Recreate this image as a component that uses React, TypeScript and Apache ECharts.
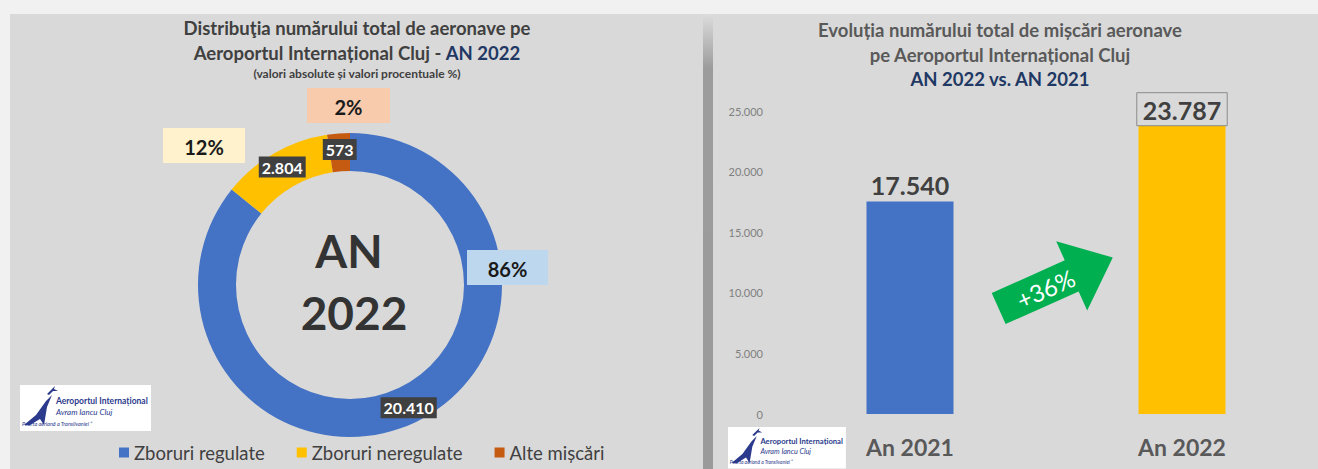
import React, { useEffect, useRef } from "react";
import * as echarts from "echarts";

// ---- Data ----
const donutNames = ["Zboruri regulate", "Zboruri neregulate", "Alte mișcări"];
const donutValues = [20410, 2804, 573];
const donutColors = ["#4472c4", "#ffc000", "#c55a11"];

const barCategories = ["An 2021", "An 2022"];
const barValues = [17540, 23787];
const barColors = ["#4472c4", "#ffc000"];

const yMin = 0;
const yMax = 25000;
const yInterval = 5000;

const FONT = "Lato, 'Noto Sans', 'Open Sans', sans-serif";

const fmt = (v: number) =>
  String(Math.round(v)).replace(/\B(?=(\d{3})+(?!\d))/g, ".");

// percentage boxes layout (position / style only)
const pctBoxes = [
  { x: 467, y: 250, w: 81, h: 35, fill: "#bdd7ee" },
  { x: 163, y: 128, w: 82, h: 35, fill: "#fff2cc" },
  { x: 307, y: 88, w: 83, h: 35, fill: "#f8cbad" },
];

const centered = { textAlign: "center", align: "center", textVerticalAlign: "middle", verticalAlign: "middle" };

function logo(x: number, y: number, s: number): any {
  const vm = { textVerticalAlign: "middle", verticalAlign: "middle" };
  return {
    type: "group",
    x,
    y,
    scaleX: s,
    scaleY: s,
    children: [
      { type: "rect", z: 50, shape: { x: 0, y: 0, width: 131, height: 46 }, style: { fill: "#ffffff" } },
      {
        type: "polygon",
        z: 51,
        shape: { points: [[4, 40], [16, 30], [26, 16], [32, 10], [27, 22], [24, 40], [20, 34], [10, 40]] },
        style: { fill: "#2b3a8c" },
      },
      {
        type: "polygon",
        z: 51,
        shape: { points: [[27, 9], [33, 3], [35, 1], [34, 4], [38, 6], [33, 6], [29, 10]] },
        style: { fill: "#2b3a8c" },
      },
      { type: "text", z: 51, x: 36, y: 16, style: { text: "Aeroportul Internațional", font: `bold 8.5px ${FONT}`, fill: "#2b3a8c", ...vm } },
      { type: "text", z: 51, x: 36, y: 27, style: { text: "Avram Iancu Cluj", font: `italic 8px ${FONT}`, fill: "#2b3a8c", ...vm } },
      { type: "text", z: 51, x: 2, y: 39, style: { text: "Poarta aeriană a Transilvaniei ”", font: `italic 5.5px ${FONT}`, fill: "#2b3a8c", ...vm } },
    ],
  };
}

export default function App() {
  const ref = useRef<HTMLDivElement>(null);

  useEffect(() => {
    if (!ref.current) return;
    const chart = echarts.init(ref.current, null, { renderer: "svg" });
    const total = donutValues.reduce((a, b) => a + b, 0);
    const pcts = donutValues.map((v) => Math.round((v / total) * 100) + "%");
    const growth = Math.round(((barValues[1] - barValues[0]) / barValues[0]) * 100);

    const graphics: any[] = [
      // backgrounds
      { type: "rect", z: -10, shape: { x: 0, y: 0, width: 1318, height: 469 }, style: { fill: "#f1f1f1" } },
      { type: "rect", z: -9, shape: { x: 10, y: 14, width: 693, height: 455 }, style: { fill: "#d9d9d9" } },
      {
        type: "rect",
        z: -9,
        shape: { x: 703, y: 14, width: 10, height: 455 },
        style: {
          fill: new echarts.graphic.LinearGradient(0, 0, 0, 1, [
            { offset: 0, color: "#dcdcdc" },
            { offset: 0.12, color: "#9c9c9c" },
            { offset: 1, color: "#9a9a9a" },
          ]),
        },
      },
      { type: "rect", z: -9, shape: { x: 713, y: 14, width: 605, height: 455 }, style: { fill: "#d9d9d9" } },

      // left titles
      {
        type: "text", x: 357, y: 28, z: 50,
        style: { text: "Distribuţia numărului total de aeronave pe", font: `bold 18.5px ${FONT}`, fill: "#404040", ...centered },
      },
      {
        type: "text", x: 357, y: 53, z: 50,
        style: {
          text: "{a|Aeroportul Internațional Cluj - }{b|AN 2022}",
          rich: {
            a: { font: `bold 18.5px ${FONT}`, fill: "#404040" },
            b: { font: `bold 18.5px ${FONT}`, fill: "#1f3864" },
          },
          ...centered,
        },
      },
      {
        type: "text", x: 357, y: 73, z: 50,
        style: { text: "(valori absolute și valori procentuale %)", font: `bold 12px ${FONT}`, fill: "#404040", ...centered },
      },

      // center text
      { type: "text", x: 349, y: 250, z: 50, style: { text: "AN", font: `bold 46px ${FONT}`, fill: "#333333", ...centered } },
      { type: "text", x: 354, y: 312, z: 50, style: { text: "2022", font: `bold 46px ${FONT}`, fill: "#333333", ...centered } },

      // right titles
      {
        type: "text", x: 1000, y: 30, z: 50,
        style: { text: "Evoluția numărului total de mișcări aeronave", font: `bold 18.5px ${FONT}`, fill: "#595959", ...centered },
      },
      {
        type: "text", x: 1000, y: 55, z: 50,
        style: { text: "pe Aeroportul Internațional Cluj", font: `bold 18.5px ${FONT}`, fill: "#595959", ...centered },
      },
      {
        type: "text", x: 1000, y: 79, z: 50,
        style: { text: "AN 2022 vs. AN 2021", font: `bold 18.5px ${FONT}`, fill: "#1f3864", ...centered },
      },

      // growth arrow
      {
        type: "group",
        x: 1058,
        y: 282,
        rotation: 0.42,
        children: [
          {
            type: "polygon",
            z: 50,
            shape: { points: [[-65, -17], [15, -17], [15, -38], [60, 0], [15, 38], [15, 17], [-65, 17]] },
            style: { fill: "#00b050" },
          },
          {
            type: "text",
            z: 51,
            x: -14,
            y: 1,
            style: { text: "+" + growth + "%", font: `24px ${FONT}`, fill: "#ffffff", ...centered },
          },
        ],
      },

      logo(20, 385, 1),
      logo(728, 427, 0.9),
    ];

    pctBoxes.forEach((b, i) => {
      graphics.push({
        type: "rect",
        z: 100,
        shape: { x: b.x, y: b.y, width: b.w, height: b.h },
        style: { fill: b.fill },
      });
      graphics.push({
        type: "text",
        z: 101,
        x: b.x + b.w / 2,
        y: b.y + b.h / 2 + 1,
        style: { text: pcts[i], font: `bold 20px ${FONT}`, fill: "#1a1a1a", ...centered },
      });
    });

    chart.setOption({
      animation: false,
      backgroundColor: "#f1f1f1",
      graphic: { elements: graphics },
      legend: {
        data: donutNames,
        left: 114,
        top: 438,
        icon: "rect",
        itemWidth: 10,
        itemHeight: 10,
        itemGap: 32,
        textStyle: { fontSize: 18.5, color: "#404040", fontFamily: FONT },
      },
      grid: { left: 774, top: 111, width: 552, height: 303 },
      xAxis: {
        type: "category",
        data: barCategories,
        axisLine: { show: false },
        axisTick: { show: false },
        axisLabel: { fontSize: 23, fontWeight: "bold", color: "#595959", margin: 21, fontFamily: FONT },
      },
      yAxis: {
        type: "value",
        min: yMin,
        max: yMax,
        interval: yInterval,
        axisLine: { show: false },
        axisTick: { show: false },
        splitLine: { show: false },
        axisLabel: { fontSize: 11, color: "#808080", margin: 11, fontFamily: FONT, formatter: (v: number) => fmt(v) },
      },
      series: [
        {
          type: "pie",
          center: [350, 285],
          radius: [114, 152],
          startAngle: 90,
          clockwise: true,
          silent: true,
          z: 2,
          data: donutNames.map((n, i) => ({ name: n, value: donutValues[i], itemStyle: { color: donutColors[i] } })),
          label: {
            show: true,
            position: "inside",
            formatter: (p: any) => fmt(p.value),
            backgroundColor: "#404040",
            color: "#ffffff",
            fontWeight: "bold",
            fontSize: 16,
            fontFamily: FONT,
            padding: [3, 3, 2, 3],
          },
          labelLine: { show: false },
          emphasis: { disabled: true },
        },
        {
          type: "bar",
          barWidth: 87,
          silent: true,
          data: barValues.map((v, i) => ({
            value: v,
            itemStyle: { color: barColors[i] },
            label:
              i === 1
                ? { borderColor: "#8c8c8c", borderWidth: 1, padding: [5, 6, 3, 6], distance: 0 }
                : { distance: 4 },
          })),
          label: {
            show: true,
            position: "top",
            fontSize: 25,
            fontWeight: "bold",
            color: "#404040",
            fontFamily: FONT,
            formatter: (p: any) => fmt(p.value),
          },
        },
      ],
    });
    return () => chart.dispose();
  }, []);

  return (
    <div
      ref={ref}
      style={{ position: "absolute", left: 0, top: 0, width: 1318, height: 469 }}
    />
  );
}
